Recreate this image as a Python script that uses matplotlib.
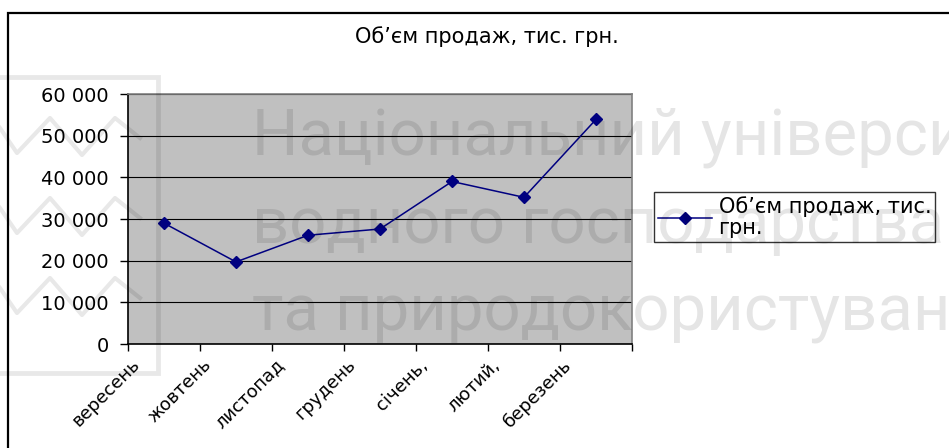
import numpy as np
import matplotlib
matplotlib.use("Agg")
import matplotlib.pyplot as plt
from matplotlib.patches import Rectangle
from matplotlib.lines import Line2D
from matplotlib.ticker import FuncFormatter, FixedLocator
import matplotlib.transforms as mtransforms

# data
months = ["вересень", "жовтень", "листопад", "грудень", "січень,", "лютий,", "березень"]
sales = [29000, 19700, 26100, 27600, 39000, 35200, 53900]
series_name = "Об’єм продаж, тис.\nгрн."
title = "Об’єм продаж, тис. грн."
y_ticks = [0, 10000, 20000, 30000, 40000, 50000, 60000]
watermark = ["Національний університет", "водного господарства", "та природокористування"]

plt.rcParams['font.family'] = ['DejaVu Sans']

W, H = 949, 448
fig = plt.figure(figsize=(W / 100, H / 100), dpi=100)

def fx(px):
    return px / W

def fy(py):
    return 1 - py / H

ax = fig.add_axes([fx(128), fy(344), fx(632) - fx(128), fy(94) - fy(344)])
ax.set_facecolor("#c0c0c0")

x = np.arange(len(months))
ax.plot(x, sales, color="#000080", lw=1.1, marker="D", markersize=6,
        markerfacecolor="#000080", markeredgecolor="#000080", zorder=5,
        clip_on=False)

ax.set_xlim(-0.5, len(months) - 0.5)
ax.set_ylim(0, 60000)
ax.yaxis.set_major_locator(FixedLocator(y_ticks))
ax.yaxis.set_major_formatter(FuncFormatter(lambda v, p: f"{int(v):,}".replace(",", " ")))
ax.grid(axis="y", color="black", lw=0.8)
ax.set_axisbelow(True)

ax.set_xticks(x)
ax.set_xticklabels(months, rotation=45, ha="right", va="center",
                   rotation_mode="anchor", fontsize=13)
ax.set_xticks(np.arange(-0.5, len(months)), minor=True)
ax.tick_params(axis="x", which="major", length=0, pad=13)
ax.tick_params(axis="x", which="minor", length=5, width=1, color="black")
ax.tick_params(axis="y", length=6, width=1, pad=8, labelsize=14)
offset = mtransforms.ScaledTranslation(-27 / 100, 0, fig.dpi_scale_trans)
for lab in ax.get_xticklabels():
    lab.set_transform(lab.get_transform() + offset)

for s in ["left", "bottom"]:
    ax.spines[s].set_color("black")
    ax.spines[s].set_linewidth(1.2)
for s in ["top", "right"]:
    ax.spines[s].set_color("#808080")
    ax.spines[s].set_linewidth(1.2)

fig.text(fx(487), fy(37), title, ha="center", va="center", fontsize=15)

# legend, running off the right edge like the original
handle = Line2D([], [], color="#000080", lw=1.1, marker="D", markersize=6)
leg = fig.legend([handle], [series_name], loc="upper left",
                 bbox_to_anchor=(fx(654), fy(192)), fontsize=15,
                 frameon=True, fancybox=False, shadow=False,
                 handlelength=2.6, handletextpad=0.3, borderpad=0.2,
                 labelspacing=0, borderaxespad=0)
leg.get_frame().set_edgecolor("black")
leg.get_frame().set_linewidth(1.0)
for t in leg.get_texts():
    t.set_linespacing(1.05)

# outer chart border
fig.add_artist(Rectangle((fx(8), -0.1), 1.2, fy(13) + 0.1, fill=False,
                         edgecolor="black", lw=1.6, transform=fig.transFigure))

# faint watermark
fig.add_artist(Rectangle((fx(-5), fy(373)), fx(163), fy(77) - fy(373), fill=False,
                         edgecolor="black", alpha=0.09, lw=3.5,
                         transform=fig.transFigure, zorder=10))
for y0 in [118, 198, 278]:
    zx = [0, 17, 50, 82, 115, 140]
    zy = [y0 + 10, y0 + 35, y0, y0 + 37, y0, y0 + 20]
    fig.add_artist(Line2D([fx(v) for v in zx], [fy(v) for v in zy], color="black",
                          alpha=0.09, lw=3, transform=fig.transFigure, zorder=10))
for i, line in enumerate(watermark):
    fig.text(fx(252), fy(155 + 88 * i), line, fontsize=47, family="Roboto",
             color="black", alpha=0.1, ha="left", va="baseline", zorder=10)

fig.savefig("out.png", dpi=100)
